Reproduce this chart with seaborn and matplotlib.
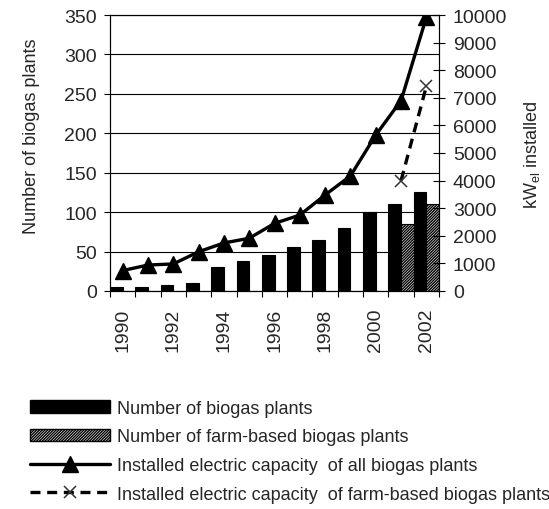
import matplotlib
matplotlib.use("Agg")
import matplotlib.pyplot as plt
import numpy as np
import pandas as pd
import seaborn as sns
from matplotlib.patches import Patch
from matplotlib.lines import Line2D

# Data
years = [1990, 1991, 1992, 1993, 1994, 1995, 1996, 1997, 1998, 1999, 2000, 2001, 2002]
plants = [5, 5, 8, 10, 30, 38, 45, 56, 65, 80, 100, 110, 125]
farm_years = [2001, 2002]
farm_plants = [85, 110]
capacity = [740, 940, 980, 1420, 1740, 1910, 2450, 2750, 3480, 4170, 5650, 6900, 9920]
farm_capacity = [4000, 7420]
tick_years = [1990, 1992, 1994, 1996, 1998, 2000, 2002]
legend_labels = [
    "Number of biogas plants",
    "Number of farm-based biogas plants",
    "Installed electric capacity  of all biogas plants",
    "Installed electric capacity  of farm-based biogas plants",
]

sns.set_style("ticks")
plt.rcParams['font.family'] = ['Liberation Sans', 'DejaVu Sans']
plt.rcParams['mathtext.fontset'] = 'custom'
plt.rcParams['mathtext.rm'] = 'Liberation Sans'
plt.rcParams['hatch.linewidth'] = 1.0

HATCH = '/' * 12

# long-form tables for seaborn
df_bars = pd.concat([
    pd.DataFrame({'year': years, 'count': plants, 'series': 'all'}),
    pd.DataFrame({'year': farm_years, 'count': farm_plants, 'series': 'farm'}),
])
pos = {y: i for i, y in enumerate(years)}
df_cap = pd.DataFrame({'x': [pos[y] for y in years], 'kw': capacity})
df_farm_cap = pd.DataFrame({'x': [pos[y] for y in farm_years], 'kw': farm_capacity})

fig = plt.figure(figsize=(5.49, 5.10), dpi=100)
ax = fig.add_axes([0.2004, 0.4275, 0.5993, 0.5411])

sns.barplot(data=df_bars, x='year', y='count', hue='series', order=years,
            hue_order=['all', 'farm'], palette={'all': 'black', 'farm': 'white'},
            width=1.0, gap=0, dodge=True, saturation=1, edgecolor='black',
            linewidth=0.8, legend=False, ax=ax)
for bar in ax.containers[1]:
    bar.set_hatch(HATCH)

ax2 = ax.twinx()
sns.lineplot(data=df_cap, x='x', y='kw', ax=ax2, color='black', linewidth=2.4,
             marker='^', markersize=11, markeredgecolor='black', markeredgewidth=1)
sns.lineplot(data=df_farm_cap, x='x', y='kw', ax=ax2, color='black', linewidth=2.4,
             linestyle=(0, (3, 2)), marker='x', markersize=9,
             markeredgecolor='#333333', markeredgewidth=1.1)

# left axis
ax.set_xlim(-0.5, len(years) - 0.5)
ax.set_ylim(0, 350)
ax.set_yticks(np.arange(0, 351, 50))
ax.grid(axis='y', color='black', linewidth=0.8)
ax.set_axisbelow(True)
ax.set_xticks([pos[y] for y in tick_years])
ax.set_xticklabels([str(y) for y in tick_years], rotation=90, fontsize=14)
ax.set_xticks(np.arange(-0.5, len(years), 1), minor=True)
ax.tick_params(axis='x', which='major', length=0, pad=12)
ax.tick_params(axis='x', which='minor', length=4.5, width=0.8, color='black')
ax.tick_params(axis='y', length=4.5, width=0.8, labelsize=14, color='black', pad=5)
ax.set_xlabel('')
ax.set_ylabel('Number of biogas plants', fontsize=13)
ax.yaxis.set_label_coords(-0.213, 0.565)

# right axis
ax2.set_xlim(-0.5, len(years) - 0.5)
ax2.set_ylim(0, 10000)
ax2.set_yticks(np.arange(0, 10001, 1000))
ax2.tick_params(axis='y', direction='inout', length=8, width=0.8, labelsize=14,
                color='black', pad=6)
ax2.set_xlabel('')
ax2.set_ylabel('kW$_{\\mathregular{el}}$ installed', fontsize=13)
ax2.yaxis.set_label_coords(1.252, 0.496)

for a in (ax, ax2):
    for s in a.spines.values():
        s.set_color('black')
        s.set_linewidth(0.8)

handles = [
    Patch(facecolor='black', edgecolor='black'),
    Patch(facecolor='white', edgecolor='black', hatch=HATCH),
    Line2D([], [], color='black', linewidth=2.4, marker='^', markersize=11),
    Line2D([], [], color='black', linewidth=2.4, linestyle=(0, (3, 2)), marker='x',
           markersize=9, markeredgecolor='#333333', markeredgewidth=1.1),
]
fig.legend(handles, legend_labels, loc='upper left', bbox_to_anchor=(0.055, 0.214),
           frameon=False, fontsize=13, handlelength=4.4, handletextpad=0.4,
           labelspacing=0.64, borderpad=0, borderaxespad=0, numpoints=1)

fig.savefig('out.png', dpi=100)
